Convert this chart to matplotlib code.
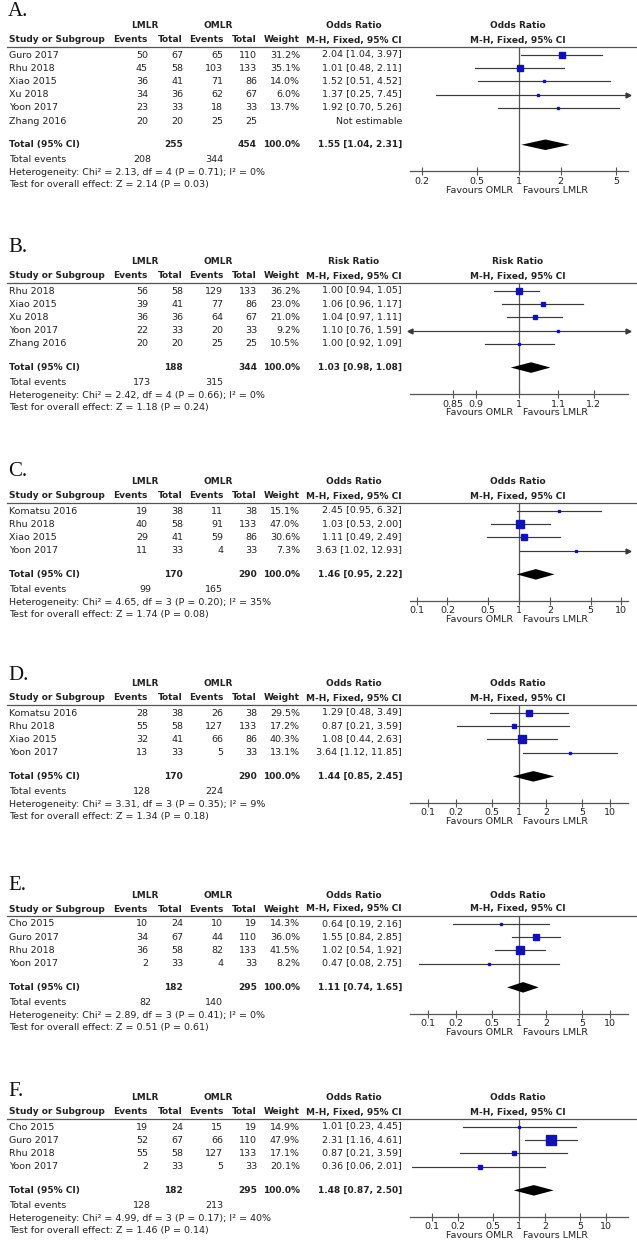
"""Six stacked RevMan-style forest plots (LMLR vs OMLR), panels A-F."""

import matplotlib

matplotlib.use("Agg")
import matplotlib.pyplot as plt
from matplotlib.ticker import FixedFormatter, FixedLocator, NullLocator

# ---- data -----------------------------------------------------------------
A_STUDY = ["Guro 2017", "Rhu 2018", "Xiao 2015", "Xu 2018", "Yoon 2017", "Zhang 2016"]
A_LMLR_EV = [50, 45, 36, 34, 23, 20]
A_LMLR_N = [67, 58, 41, 36, 33, 20]
A_OMLR_EV = [65, 103, 71, 62, 18, 25]
A_OMLR_N = [110, 133, 86, 67, 33, 25]
A_WEIGHT = [31.2, 35.1, 14.0, 6.0, 13.7, None]
A_EST = [2.04, 1.01, 1.52, 1.37, 1.92, None]
A_LO = [1.04, 0.48, 0.51, 0.25, 0.70, None]
A_HI = [3.97, 2.11, 4.52, 7.45, 5.26, None]

B_STUDY = ["Rhu 2018", "Xiao 2015", "Xu 2018", "Yoon 2017", "Zhang 2016"]
B_LMLR_EV = [56, 39, 36, 22, 20]
B_LMLR_N = [58, 41, 36, 33, 20]
B_OMLR_EV = [129, 77, 64, 20, 25]
B_OMLR_N = [133, 86, 67, 33, 25]
B_WEIGHT = [36.2, 23.0, 21.0, 9.2, 10.5]
B_EST = [1.00, 1.06, 1.04, 1.10, 1.00]
B_LO = [0.94, 0.96, 0.97, 0.76, 0.92]
B_HI = [1.05, 1.17, 1.11, 1.59, 1.09]

C_STUDY = ["Komatsu 2016", "Rhu 2018", "Xiao 2015", "Yoon 2017"]
C_LMLR_EV = [19, 40, 29, 11]
C_LMLR_N = [38, 58, 41, 33]
C_OMLR_EV = [11, 91, 59, 4]
C_OMLR_N = [38, 133, 86, 33]
C_WEIGHT = [15.1, 47.0, 30.6, 7.3]
C_EST = [2.45, 1.03, 1.11, 3.63]
C_LO = [0.95, 0.53, 0.49, 1.02]
C_HI = [6.32, 2.00, 2.49, 12.93]

D_STUDY = ["Komatsu 2016", "Rhu 2018", "Xiao 2015", "Yoon 2017"]
D_LMLR_EV = [28, 55, 32, 13]
D_LMLR_N = [38, 58, 41, 33]
D_OMLR_EV = [26, 127, 66, 5]
D_OMLR_N = [38, 133, 86, 33]
D_WEIGHT = [29.5, 17.2, 40.3, 13.1]
D_EST = [1.29, 0.87, 1.08, 3.64]
D_LO = [0.48, 0.21, 0.44, 1.12]
D_HI = [3.49, 3.59, 2.63, 11.85]

E_STUDY = ["Cho 2015", "Guro 2017", "Rhu 2018", "Yoon 2017"]
E_LMLR_EV = [10, 34, 36, 2]
E_LMLR_N = [24, 67, 58, 33]
E_OMLR_EV = [10, 44, 82, 4]
E_OMLR_N = [19, 110, 133, 33]
E_WEIGHT = [14.3, 36.0, 41.5, 8.2]
E_EST = [0.64, 1.55, 1.02, 0.47]
E_LO = [0.19, 0.84, 0.54, 0.08]
E_HI = [2.16, 2.85, 1.92, 2.75]

F_STUDY = ["Cho 2015", "Guro 2017", "Rhu 2018", "Yoon 2017"]
F_LMLR_EV = [19, 52, 55, 2]
F_LMLR_N = [24, 67, 58, 33]
F_OMLR_EV = [15, 66, 127, 5]
F_OMLR_N = [19, 110, 133, 33]
F_WEIGHT = [14.9, 47.9, 17.1, 20.1]
F_EST = [1.01, 2.31, 0.87, 0.36]
F_LO = [0.23, 1.16, 0.21, 0.06]
F_HI = [4.45, 4.61, 3.59, 2.01]

PANEL_LABELS = ["A.", "B.", "C.", "D.", "E.", "F."]
MEASURES = ["Odds Ratio", "Risk Ratio", "Odds Ratio", "Odds Ratio", "Odds Ratio", "Odds Ratio"]
TOTAL_LMLR_N = [255, 188, 170, 170, 182, 182]
TOTAL_OMLR_N = [454, 344, 290, 290, 295, 295]
TOTAL_EST = [1.55, 1.03, 1.46, 1.44, 1.11, 1.48]
TOTAL_LO = [1.04, 0.98, 0.95, 0.85, 0.74, 0.87]
TOTAL_HI = [2.31, 1.08, 2.22, 2.45, 1.65, 2.50]
TOTAL_LMLR_EV = [208, 173, 99, 128, 82, 128]
TOTAL_OMLR_EV = [344, 315, 165, 224, 140, 213]
CHI2 = [2.13, 2.42, 4.65, 3.31, 2.89, 4.99]
DF = [4, 4, 3, 3, 3, 3]
P_HET = [0.71, 0.66, 0.20, 0.35, 0.41, 0.17]
I2 = [0, 0, 35, 9, 0, 40]
Z = [2.14, 1.18, 1.74, 1.34, 0.51, 1.46]
P_Z = [0.03, 0.24, 0.08, 0.18, 0.61, 0.14]
TICKS = [
    [0.2, 0.5, 1, 2, 5],
    [0.85, 0.9, 1, 1.1, 1.2],
    [0.1, 0.2, 0.5, 1, 2, 5, 10],
    [0.1, 0.2, 0.5, 1, 2, 5, 10],
    [0.1, 0.2, 0.5, 1, 2, 5, 10],
    [0.1, 0.2, 0.5, 1, 2, 5, 10],
]

# ---- layout (pixels) --------------------------------------------------------
W, H = 637, 1240
HEADER_Y = [26, 262, 482, 684, 895, 1098]
LABEL_Y = [12, 247, 472, 676, 886, 1092]
HALF_DECADES = [0.786, 0.1158, 1.065, 1.2, 1.2, 1.25]
ROW = 13.2
PLOT_L, PLOT_R, X_ONE = 410, 628, 518
FS = 6.8
FS_BOLD = 6.5
TXT = "#222222"
GRAY = "#555555"
CI_COL = "#3a3a3a"
BLUE = "#1212b4"

plt.rcParams["font.family"] = ["DejaVu Sans"]

fig = plt.figure(figsize=(W / 100, H / 100), dpi=100)
canvas = fig.add_axes([0, 0, 1, 1])
canvas.set_xlim(0, W)
canvas.set_ylim(H, 0)
canvas.axis("off")


def txt(x, y, s, ha="right", bold=False):
    canvas.text(x, y, s, ha=ha, va="center", fontsize=FS_BOLD if bold else FS, color=TXT,
                fontweight="bold" if bold else "normal")


def draw_panel(p, study, lev, ln, oev, on, weight, est, lo, hi):
    h = HEADER_Y[p]
    n = len(study)
    row0 = h + 29

    canvas.text(8, LABEL_Y[p], PANEL_LABELS[p], ha="left", va="center", fontsize=15,
                family="Liberation Serif", color="#111111")

    # header
    txt(145, h, "LMLR", ha="center", bold=True)
    txt(218, h, "OMLR", ha="center", bold=True)
    txt(354, h, MEASURES[p], ha="center", bold=True)
    txt(X_ONE, h, MEASURES[p], ha="center", bold=True)
    h2 = h + 14
    txt(9, h2, "Study or Subgroup", ha="left", bold=True)
    txt(148, h2, "Events", bold=True)
    txt(183, h2, "Total", bold=True)
    txt(223, h2, "Events", bold=True)
    txt(257, h2, "Total", bold=True)
    txt(300, h2, "Weight", bold=True)
    txt(402, h2, "M-H, Fixed, 95% CI", bold=True)
    txt(X_ONE, h2, "M-H, Fixed, 95% CI", ha="center", bold=True)
    canvas.plot([7, W], [h + 21, h + 21], color=GRAY, lw=0.9)

    # study rows
    for i in range(n):
        y = row0 + ROW * i
        txt(9, y, study[i], ha="left")
        txt(148, y, str(lev[i]))
        txt(183, y, str(ln[i]))
        txt(223, y, str(oev[i]))
        txt(257, y, str(on[i]))
        if est[i] is None:
            txt(402, y, "Not estimable")
        else:
            txt(300, y, f"{weight[i]:.1f}%")
            txt(402, y, f"{est[i]:.2f} [{lo[i]:.2f}, {hi[i]:.2f}]")

    ty = row0 + ROW * (n + 0.8)
    txt(9, ty, "Total (95% CI)", ha="left", bold=True)
    txt(183, ty, str(TOTAL_LMLR_N[p]), bold=True)
    txt(257, ty, str(TOTAL_OMLR_N[p]), bold=True)
    txt(300, ty, "100.0%", bold=True)
    txt(402, ty, f"{TOTAL_EST[p]:.2f} [{TOTAL_LO[p]:.2f}, {TOTAL_HI[p]:.2f}]", bold=True)
    txt(9, ty + 15, "Total events", ha="left")
    txt(151, ty + 15, str(TOTAL_LMLR_EV[p]))
    txt(223, ty + 15, str(TOTAL_OMLR_EV[p]))
    txt(9, ty + 28, f"Heterogeneity: Chi² = {CHI2[p]:.2f}, df = {DF[p]} "
                    f"(P = {P_HET[p]:.2f}); I² = {I2[p]}%", ha="left")
    txt(9, ty + 40, f"Test for overall effect: Z = {Z[p]:.2f} (P = {P_Z[p]:.2f})", ha="left")

    # forest axes
    top = h + 21
    bottom = row0 + ROW * (n + 2.8)
    ax = fig.add_axes([PLOT_L / W, 1 - bottom / H, (PLOT_R - PLOT_L) / W, (bottom - top) / H])
    ax.set_facecolor("none")
    xmin, xmax = 10 ** -HALF_DECADES[p], 10 ** HALF_DECADES[p]
    ax.set_xscale("log")
    ax.set_xlim(xmin, xmax)
    ax.set_ylim(n + 2.8, (top - row0) / ROW)
    for side in ["top", "left", "right"]:
        ax.spines[side].set_visible(False)
    ax.spines["bottom"].set_color(GRAY)
    ax.spines["bottom"].set_linewidth(0.9)
    ax.yaxis.set_major_locator(NullLocator())
    ax.xaxis.set_major_locator(FixedLocator(TICKS[p]))
    ax.xaxis.set_major_formatter(FixedFormatter([f"{t:g}" for t in TICKS[p]]))
    ax.xaxis.set_minor_locator(NullLocator())
    ax.tick_params(axis="x", direction="inout", length=6, width=0.8, pad=1,
                   labelsize=FS, colors=GRAY, labelcolor=TXT)
    ax.axvline(1, color=GRAY, lw=0.9, zorder=1)

    for i in range(n):
        if est[i] is None:
            continue
        left, right = max(lo[i], xmin), min(hi[i], xmax)
        ax.plot([left, right], [i, i], color=CI_COL, lw=0.85, zorder=2)
        if lo[i] < xmin:
            ax.plot(xmin, i, marker="<", ms=3.5, color=CI_COL, clip_on=False, zorder=2)
        if hi[i] > xmax:
            ax.plot(xmax, i, marker=">", ms=3.5, color=CI_COL, clip_on=False, zorder=2)
        size = max(2.6, 0.19 * weight[i]) * 0.72
        ax.plot(est[i], i, marker="s", ms=size, color=BLUE, mec=BLUE, zorder=3, clip_on=False)

    dy = n + 0.8
    ax.fill([TOTAL_LO[p], TOTAL_EST[p], TOTAL_HI[p], TOTAL_EST[p]],
            [dy, dy - 0.4, dy, dy + 0.4], color="black", lw=0, zorder=3)

    fy = bottom + 19
    txt(X_ONE - 5, fy, "Favours OMLR")
    txt(X_ONE + 5, fy, "Favours LMLR", ha="left")


draw_panel(0, A_STUDY, A_LMLR_EV, A_LMLR_N, A_OMLR_EV, A_OMLR_N, A_WEIGHT, A_EST, A_LO, A_HI)
draw_panel(1, B_STUDY, B_LMLR_EV, B_LMLR_N, B_OMLR_EV, B_OMLR_N, B_WEIGHT, B_EST, B_LO, B_HI)
draw_panel(2, C_STUDY, C_LMLR_EV, C_LMLR_N, C_OMLR_EV, C_OMLR_N, C_WEIGHT, C_EST, C_LO, C_HI)
draw_panel(3, D_STUDY, D_LMLR_EV, D_LMLR_N, D_OMLR_EV, D_OMLR_N, D_WEIGHT, D_EST, D_LO, D_HI)
draw_panel(4, E_STUDY, E_LMLR_EV, E_LMLR_N, E_OMLR_EV, E_OMLR_N, E_WEIGHT, E_EST, E_LO, E_HI)
draw_panel(5, F_STUDY, F_LMLR_EV, F_LMLR_N, F_OMLR_EV, F_OMLR_N, F_WEIGHT, F_EST, F_LO, F_HI)

fig.savefig("out.png", dpi=100)
